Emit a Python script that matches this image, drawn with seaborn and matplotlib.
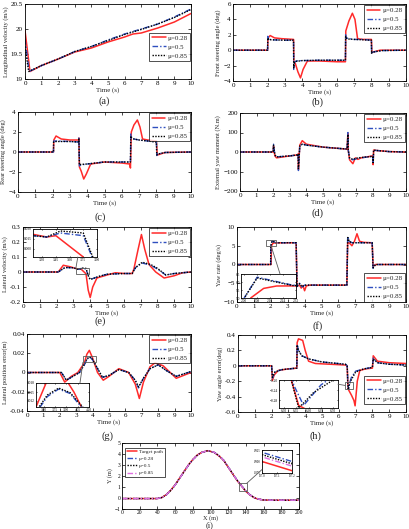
import numpy as np
import pandas as pd
import matplotlib
matplotlib.use("Agg")
import matplotlib.pyplot as plt
import seaborn as sns
from matplotlib.patches import Rectangle, ConnectionPatch
from matplotlib.ticker import MaxNLocator

sns.set_theme(style="ticks")
plt.rcParams['font.family'] = ['Liberation Serif', 'DejaVu Serif']
plt.rcParams['mathtext.fontset'] = 'stix'

# ---------------- data ----------------
mu_labels = ["\u03bc=0.28", "\u03bc=0.5", "\u03bc=0.85"]

# (a) longitudinal velocity
a_t_r = [0, 0.3, 1, 2, 3, 4, 5, 6, 6.5, 7, 8, 9, 10]
a_v_r = [19.97, 19.15, 19.27, 19.4, 19.54, 19.62, 19.74, 19.84, 19.9, 19.92, 20.02, 20.14, 20.31]
a_t_b = [0, 0.25, 1, 2, 3, 4, 5, 6, 7, 8, 9, 10]
a_v_b = [19.8, 19.15, 19.27, 19.4, 19.55, 19.65, 19.78, 19.9, 20.0, 20.1, 20.24, 20.4]
a_t_k = [0, 0.22, 1, 2, 3, 4, 5, 6, 7, 8, 9, 10]
a_v_k = [19.65, 19.15, 19.27, 19.4, 19.55, 19.65, 19.77, 19.89, 19.99, 20.1, 20.23, 20.39]

# (b) front steering angle
b_t_r = [0, 2.0, 2.02, 2.15, 2.4, 2.8, 3.5, 3.52, 3.6, 3.75, 3.9, 4.05, 4.3, 5, 6, 6.5, 6.52, 6.7, 6.9, 7.05, 7.2, 7.5, 8.0, 8.03, 8.15, 8.5, 10]
b_v_r = [0, 0, 1.6, 1.9, 1.6, 1.5, 1.4, -1.5, -1.7, -2.8, -3.6, -2.5, -1.4, -1.4, -1.5, -1.5, 2.5, 3.8, 4.8, 4.0, 1.5, 1.4, 1.4, -0.3, -0.2, 0, 0]
b_t_b = [0, 2.0, 2.01, 2.05, 2.2, 3.0, 3.5, 3.51, 3.55, 3.65, 4, 5, 6, 6.5, 6.51, 6.55, 6.7, 7, 7.5, 8.0, 8.01, 8.05, 8.2, 8.6, 10]
b_v_b = [0, 0, 1.8, 1.5, 1.35, 1.3, 1.3, -2.5, -1.6, -1.4, -1.35, -1.3, -1.3, -1.3, 2.0, 1.6, 1.5, 1.4, 1.4, 1.3, -0.5, -0.25, -0.2, -0.05, 0]
b_t_k = [0, 2.0, 2.01, 2.05, 2.2, 3.0, 3.5, 3.51, 3.55, 3.65, 4, 5, 6, 6.5, 6.51, 6.55, 6.7, 7, 7.5, 8.0, 8.01, 8.05, 8.2, 8.6, 10]
b_v_k = [0, 0, 1.6, 1.45, 1.35, 1.3, 1.3, -2.3, -1.6, -1.45, -1.35, -1.3, -1.3, -1.3, 1.8, 1.55, 1.45, 1.4, 1.35, 1.3, -0.4, -0.25, -0.2, -0.05, 0]

# (c) rear steering angle
c_t_r = [0, 2.05, 2.07, 2.2, 2.5, 3.0, 3.5, 3.52, 3.55, 3.65, 3.8, 3.95, 4.2, 5, 6, 6.45, 6.5, 6.55, 6.7, 6.9, 7.05, 7.2, 7.5, 8, 8.05, 8.15, 8.5, 10]
c_v_r = [0, 0, 1.2, 1.6, 1.3, 1.2, 1.2, 1.4, -1.5, -1.9, -2.7, -2.2, -1.2, -1.0, -1.1, -1.2, -1.6, 2.0, 2.7, 3.2, 2.5, 1.3, 1.2, 1.1, -0.3, -0.25, -0.05, 0]
c_t_b = [0, 2.05, 2.06, 2.2, 3.0, 3.5, 3.52, 3.55, 3.6, 4, 5, 6, 6.5, 6.52, 6.55, 6.7, 7, 8, 8.02, 8.1, 8.5, 10]
c_v_b = [0, 0, 1.1, 1.1, 1.05, 1.0, 1.4, -1.4, -1.3, -1.2, -1.0, -1.0, -1.0, 1.8, 1.5, 1.3, 1.2, 1.0, -0.35, -0.2, -0.05, 0]
c_t_k = [0, 2.05, 2.06, 2.2, 3.0, 3.5, 3.52, 3.55, 3.6, 4, 5, 6, 6.5, 6.52, 6.55, 6.7, 7, 8, 8.02, 8.1, 8.5, 10]
c_v_k = [0, 0, 1.0, 1.05, 1.05, 1.0, 1.3, -1.3, -1.25, -1.2, -1.0, -1.0, -1.0, 1.6, 1.45, 1.3, 1.2, 1.0, -0.3, -0.2, -0.05, 0]

# (d) external yaw moment
d_t_r = [0, 2.0, 2.02, 2.1, 2.2, 3.0, 3.45, 3.5, 3.52, 3.6, 3.75, 4.0, 5, 6, 6.45, 6.5, 6.52, 6.6, 6.8, 6.95, 7.1, 7.3, 8, 8.02, 8.05, 8.2, 9, 10]
d_v_r = [0, 0, 30, -20, -30, -20, -15, -10, -90, 35, 58, 40, 25, 18, 15, 95, 10, -40, -60, -30, -38, -30, -20, -65, 10, 8, 2, 0]
d_t_b = [0, 2.0, 2.02, 2.1, 2.2, 3.0, 3.45, 3.5, 3.52, 3.6, 3.75, 4.0, 5, 6, 6.45, 6.5, 6.52, 6.6, 6.8, 7.1, 8, 8.02, 8.05, 8.2, 9, 10]
d_v_b = [0, 0, 40, -15, -25, -20, -15, -10, -95, 30, 42, 35, 25, 18, 15, 100, 10, -35, -40, -32, -22, -60, 10, 8, 2, 0]
d_t_k = [0, 2.0, 2.02, 2.1, 2.2, 3.0, 3.45, 3.5, 3.52, 3.6, 3.75, 4.0, 5, 6, 6.45, 6.5, 6.52, 6.6, 6.8, 7.1, 8, 8.02, 8.05, 8.2, 9, 10]
d_v_k = [0, 0, 35, -15, -25, -20, -15, -10, -85, 30, 40, 35, 25, 18, 15, 90, 10, -30, -38, -30, -22, -55, 10, 8, 2, 0]

# (e) lateral velocity
e_t_r = [0, 2.1, 2.4, 2.8, 3.2, 3.35, 3.45, 3.75, 3.88, 4.0, 4.15, 4.4, 5, 5.5, 6, 6.5, 6.6, 6.85, 7.05, 7.25, 7.5, 7.9, 8.4, 9, 9.5, 10]
e_v_r = [0, 0, 0.045, 0.035, 0.022, 0.018, 0.02, -0.012, -0.12, -0.17, -0.1, -0.04, -0.02, -0.005, -0.01, -0.01, 0.02, 0.15, 0.25, 0.15, 0.05, 0.0, -0.04, -0.025, -0.005, 0]
e_t_b = [0, 2.1, 2.5, 3.0, 3.2, 3.35, 3.5, 3.75, 3.9, 4.0, 4.5, 5, 6, 6.5, 6.7, 7.1, 7.6, 8.0, 8.5, 9, 10]
e_v_b = [0, 0, 0.03, 0.028, 0.02, 0.018, 0.024, 0.02, -0.03, -0.05, -0.03, -0.015, -0.01, -0.01, 0.03, 0.06, 0.045, 0.02, -0.02, -0.01, 0]
e_t_k = [0, 2.1, 2.5, 3.0, 3.2, 3.35, 3.5, 3.75, 3.9, 4.0, 4.5, 5, 6, 6.5, 6.7, 7.1, 7.6, 8.0, 8.5, 9, 10]
e_v_k = [0, 0, 0.03, 0.028, 0.02, 0.018, 0.027, 0.024, -0.028, -0.05, -0.03, -0.015, -0.01, -0.01, 0.03, 0.065, 0.05, 0.025, -0.02, -0.01, 0]

# (f) yaw rate
f_t_r = [0, 2.02, 2.04, 2.12, 2.2, 3.0, 3.5, 3.55, 3.7, 3.8, 3.9, 4.0, 4.1, 4.3, 5, 6.5, 6.55, 6.7, 6.8, 6.95, 7.1, 7.25, 7.5, 8.0, 8.05, 8.2, 10]
f_v_r = [0, 0, 5.0, 5.6, 5.75, 5.8, 5.8, -5.8, -5.5, -6.3, -5.6, -7.0, -5.7, -5.5, -5.5, -5.5, 6.0, 5.5, 5.0, 6.2, 8.2, 6.2, 5.9, 5.8, -0.5, 0, 0]
f_t_b = [0, 1.99, 2.0, 2.08, 2.3, 3.0, 3.5, 3.55, 3.7, 3.85, 4.0, 5, 6.5, 6.55, 6.65, 6.8, 7.2, 8.0, 8.05, 8.2, 10]
f_v_b = [0, 0, 5.0, 6.3, 5.8, 5.8, 5.8, -5.9, -5.0, -6.0, -5.5, -5.5, -5.5, 7.5, 6.2, 5.8, 5.8, 5.8, -1.0, 0, 0]
f_t_k = [0, 1.99, 2.0, 2.08, 2.3, 3.0, 3.5, 3.55, 3.7, 3.85, 4.0, 5, 6.5, 6.55, 6.65, 6.8, 7.2, 8.0, 8.05, 8.2, 10]
f_v_k = [0, 0, 5.0, 6.25, 5.78, 5.8, 5.8, -5.8, -5.1, -5.9, -5.5, -5.5, -5.5, 7.2, 6.1, 5.8, 5.8, 5.8, -0.9, 0, 0]

# (g) lateral position error
g_t_r = [0, 2.0, 2.3, 2.7, 3.1, 3.5, 3.65, 3.8, 4.0, 4.3, 4.65, 5.0, 5.6, 6.2, 6.6, 6.85, 7.1, 7.5, 7.8, 8.3, 9.1, 10]
g_v_r = [0, 0, -0.010, -0.004, 0.0, 0.01, 0.019, 0.023, 0.015, 0.0, -0.008, -0.004, 0.004, 0.0, -0.012, -0.027, -0.01, 0.006, 0.01, 0.007, -0.006, 0.0]
g_t_b = [0, 2.1, 2.4, 2.8, 3.2, 3.5, 3.65, 3.8, 3.95, 4.1, 4.6, 5.0, 5.6, 6.2, 6.6, 6.8, 7.1, 7.5, 8.0, 8.5, 9.1, 10]
g_v_b = [0, 0, -0.008, -0.004, 0.0, 0.008, 0.0135, 0.016, 0.0145, 0.01, -0.005, -0.003, 0.003, 0.0, -0.008, -0.016, -0.006, 0.004, 0.008, 0.002, -0.004, 0.001]
g_t_k = [0, 2.1, 2.4, 2.8, 3.2, 3.5, 3.65, 3.8, 3.95, 4.1, 4.6, 5.0, 5.6, 6.2, 6.6, 6.8, 7.1, 7.5, 8.0, 8.5, 9.1, 10]
g_v_k = [0, 0, -0.008, -0.004, 0.0, 0.0085, 0.014, 0.0163, 0.0148, 0.0105, -0.005, -0.003, 0.003, 0.0, -0.008, -0.015, -0.006, 0.004, 0.008, 0.002, -0.004, 0.001]

# (h) yaw angle error
h_t_r = [0, 2.0, 2.05, 2.15, 2.4, 3.0, 3.5, 3.52, 3.6, 3.85, 4.0, 4.2, 4.6, 5.5, 6.4, 6.5, 6.53, 6.56, 6.6, 6.75, 6.9, 6.97, 7.1, 7.25, 7.6, 8.0, 8.05, 8.3, 9, 10]
h_v_r = [0, 0, -0.19, -0.12, -0.06, -0.04, -0.03, 0.30, 0.35, 0.33, 0.2, 0.06, 0.03, 0.02, 0.01, 0.0, -0.2, -0.3, -0.32, -0.38, -0.45, -0.52, -0.2, -0.06, -0.04, -0.03, 0.13, 0.06, 0.04, 0.03]
h_t_b = [0, 2.0, 2.05, 2.2, 2.6, 3.5, 3.52, 3.6, 3.8, 4.2, 5, 6.4, 6.5, 6.54, 6.58, 6.65, 6.75, 7.0, 7.5, 8.0, 8.05, 8.3, 9, 10]
h_v_b = [0, 0, -0.16, -0.08, -0.05, -0.03, 0.28, 0.2, 0.13, 0.09, 0.05, 0.02, 0.0, -0.22, -0.3, -0.22, -0.15, -0.07, -0.04, -0.02, 0.1, 0.04, 0.02, 0.01]
h_t_k = [0, 2.0, 2.05, 2.2, 2.6, 3.5, 3.52, 3.6, 3.8, 4.2, 5, 6.4, 6.5, 6.53, 6.56, 6.62, 6.7, 7.0, 7.5, 8.0, 8.05, 8.3, 9, 10]
h_v_k = [0, 0, -0.15, -0.08, -0.05, -0.03, 0.27, 0.2, 0.13, 0.09, 0.05, 0.02, 0.0, -0.2, -0.31, -0.25, -0.2, -0.08, -0.04, -0.02, 0.09, 0.04, 0.02, 0.01]

# (i) path
i_x = [0, 40, 45, 50, 55, 60, 65, 70, 75, 80, 85, 90, 97, 104, 110, 115, 120, 125, 130, 135, 140, 145, 150, 155, 160, 170, 200]
i_target = [-0.05, -0.05, 0.05, 0.3, 0.7, 1.2, 1.8, 2.4, 3.0, 3.5, 3.9, 4.15, 4.3, 4.15, 3.8, 3.4, 2.8, 2.2, 1.6, 1.1, 0.6, 0.25, 0.0, -0.12, -0.18, -0.2, -0.2]
i_mu028 = [-0.05, -0.05, 0.04, 0.28, 0.68, 1.18, 1.78, 2.38, 2.98, 3.48, 3.88, 4.14, 4.3, 4.16, 3.82, 3.42, 2.82, 2.22, 1.62, 1.12, 0.62, 0.27, 0.01, -0.11, -0.18, -0.2, -0.2]
i_mu05 = [-0.05, -0.05, 0.04, 0.28, 0.68, 1.18, 1.78, 2.38, 2.98, 3.48, 3.88, 4.14, 4.3, 4.16, 3.82, 3.42, 2.82, 2.22, 1.62, 1.115, 0.615, 0.265, 0.01, -0.11, -0.18, -0.2, -0.2]
i_mu085 = [-0.05, -0.05, 0.04, 0.28, 0.68, 1.18, 1.78, 2.38, 2.98, 3.48, 3.88, 4.14, 4.3, 4.16, 3.82, 3.42, 2.82, 2.22, 1.62, 1.11, 0.61, 0.26, 0.01, -0.11, -0.18, -0.2, -0.2]

# ---------------- styling ----------------
RED = '#ff2a2a'
BLUE = '#2f4fbf'
BLACK = '#000000'
PINK = '#e070e0'
styles = [dict(color=RED, linestyle='-', lw=1.1),
          dict(color=BLUE, linestyle=(0, (4, 1.5, 1, 1.5)), lw=1.0),
          dict(color=BLACK, linestyle=(0, (1, 1)), lw=1.0)]

W, H = 409, 529
fig = plt.figure(figsize=(W / 100, H / 100), dpi=100)


def px_axes(l, r, t, b):
    return fig.add_axes([l / W, 1 - b / H, (r - l) / W, (b - t) / H])


def style_ax(ax, fs=5):
    for s in ax.spines.values():
        s.set_visible(True)
        s.set_linewidth(0.6)
        s.set_color('black')
    ax.tick_params(direction='in', length=2, width=0.5, labelsize=fs, pad=1.5,
                   top=True, right=True, colors='black')
    ax.set_facecolor('white')


def draw(ax, series, labels=mu_labels, sty=styles):
    for (t, v), lab, st in zip(series, labels, sty):
        sns.lineplot(x=t, y=v, ax=ax, label=lab, estimator=None, sort=False, **st)


def legend(ax, loc, anchor, fs=5):
    lg = ax.legend(loc=loc, bbox_to_anchor=anchor, fontsize=fs, frameon=True, fancybox=False,
                   edgecolor='black', handlelength=2.0, handletextpad=0.3, borderpad=0.35,
                   labelspacing=0.45, borderaxespad=0)
    lg.get_frame().set_linewidth(0.6)


def time_axis(ax):
    ax.set_xlim(0, 10)
    ax.set_xticks(range(0, 11))
    ax.set_xlabel('Time (s)', fontsize=5, labelpad=0.5)


def inset(ax, box, rect, xlim, ylim, series, conn_a, conn_b, labels=mu_labels, sty=styles,
          xn=5, yn=3):
    x0, x1, y0, y1 = rect
    ax.add_patch(Rectangle((x0, y0), x1 - x0, y1 - y0, fill=False, ec='0.35', lw=0.6, zorder=5))
    ins = px_axes(*box)
    draw(ins, series, labels, sty)
    if ins.get_legend():
        ins.get_legend().remove()
    ins.set_xlim(*xlim)
    ins.set_ylim(*ylim)
    style_ax(ins, fs=2.5)
    ins.tick_params(length=1, pad=0.8)
    ins.xaxis.set_major_locator(MaxNLocator(nbins=xn))
    ins.yaxis.set_major_locator(MaxNLocator(nbins=yn))
    ins.set_xlabel('')
    ins.set_ylabel('')
    xa = x0 if conn_a[0] == 0 else (x1 if conn_a[0] == 1 else (x0 + x1) / 2)
    ya = y0 if conn_a[1] == 0 else (y1 if conn_a[1] == 1 else (y0 + y1) / 2)
    con = ConnectionPatch(xyA=(xa, ya), coordsA=ax.transData, xyB=conn_b, coordsB=ins.transAxes,
                          color='0.35', lw=0.6)
    fig.add_artist(con)
    return ins


def panel(txt, x, y, fs=7.5):
    fig.text(x / W, 1 - y / H, txt, fontsize=fs, ha='center', va='center')


# (a)
ax = px_axes(25, 191, 4, 79)
draw(ax, [(a_t_r, a_v_r), (a_t_b, a_v_b), (a_t_k, a_v_k)])
style_ax(ax)
time_axis(ax)
ax.set_ylim(19, 20.5)
ax.set_yticks([19, 19.5, 20, 20.5])
ax.set_yticklabels(['19', '19.5', '20', '20.5'])
ax.set_ylabel('Longitudinal velocity (m/s)', fontsize=4.6, labelpad=1.5)
legend(ax, 'upper right', (0.995, 0.62))
panel('(a)', 104, 101)

# (b)
ax = px_axes(233, 406, 4, 81)
draw(ax, [(b_t_r, b_v_r), (b_t_b, b_v_b), (b_t_k, b_v_k)])
style_ax(ax)
time_axis(ax)
ax.set_ylim(-4, 6)
ax.set_yticks([-4, -2, 0, 2, 4, 6])
ax.set_ylabel('Front steering angle (deg)', fontsize=4.6, labelpad=1.5)
legend(ax, 'upper right', (0.995, 0.99))
panel('(b)', 317, 102)

# (c)
ax = px_axes(18, 191, 112, 192)
draw(ax, [(c_t_r, c_v_r), (c_t_b, c_v_b), (c_t_k, c_v_k)])
style_ax(ax)
time_axis(ax)
ax.set_ylim(-4, 4)
ax.set_yticks([-4, -2, 0, 2, 4])
ax.set_ylabel('Rear steering angle (deg)', fontsize=4.6, labelpad=1.5)
legend(ax, 'upper right', (0.995, 0.99))
panel('(c)', 100, 217)

# (d)
ax = px_axes(240, 406, 113, 191)
draw(ax, [(d_t_r, d_v_r), (d_t_b, d_v_b), (d_t_k, d_v_k)])
style_ax(ax)
time_axis(ax)
ax.set_ylim(-200, 200)
ax.set_yticks([-200, -100, 0, 100, 200])
ax.set_ylabel('External yaw moment (N.m)', fontsize=4.6, labelpad=1.5)
legend(ax, 'upper right', (0.995, 0.99))
panel('(d)', 318, 213)

# (e)
ax = px_axes(23, 191, 227, 302)
e_series = [(e_t_r, e_v_r), (e_t_b, e_v_b), (e_t_k, e_v_k)]
draw(ax, e_series)
style_ax(ax)
time_axis(ax)
ax.set_ylim(-0.2, 0.3)
ax.set_yticks([-0.2, -0.1, 0, 0.1, 0.2, 0.3])
ax.set_yticklabels(['-0.2', '-0.1', '0', '0.1', '0.2', '0.3'])
ax.set_ylabel('Lateral velocity (m/s)', fontsize=4.6, labelpad=1.5)
legend(ax, 'upper right', (0.995, 0.99))
inset(ax, (33, 97, 229, 257), (3.15, 3.92, -0.013, 0.027), (3.2, 3.9), (-0.012, 0.03),
      e_series, (0, 1), (0.7, 0.0))
panel('(e)', 100, 321)

# (f)
ax = px_axes(237, 406, 227, 302)
f_series = [(f_t_r, f_v_r), (f_t_b, f_v_b), (f_t_k, f_v_k)]
draw(ax, f_series)
style_ax(ax)
time_axis(ax)
ax.set_ylim(-10, 10)
ax.set_yticks([-10, -5, 0, 5, 10])
ax.set_ylabel('Yaw rate (deg/s)', fontsize=4.6, labelpad=1.5)
legend(ax, 'lower right', (0.995, 0.005))
inset(ax, (241, 296, 274, 298), (1.72, 2.31, 5.0, 6.5), (1.98, 2.32), (5.0, 6.5),
      f_series, (0.5, 0), (0.71, 1.0))
panel('(f)', 318, 326)

# (g)
ax = px_axes(27, 191, 334, 411)
g_series = [(g_t_r, g_v_r), (g_t_b, g_v_b), (g_t_k, g_v_k)]
draw(ax, g_series)
style_ax(ax)
time_axis(ax)
ax.set_ylim(-0.04, 0.04)
ax.set_yticks([-0.04, -0.02, 0, 0.02, 0.04])
ax.set_yticklabels(['-0.04', '-0.02', '0', '0.02', '0.04'])
ax.set_ylabel('Lateral position error(m)', fontsize=4.6, labelpad=1.5)
legend(ax, 'upper right', (0.995, 0.99))
inset(ax, (36, 89, 383, 407), (3.41, 4.2, 0.0105, 0.0168), (3.5, 4.2), (0.010, 0.018),
      g_series, (0, 0), (0.83, 1.0))
panel('(g)', 107, 436)

# (h)
ax = px_axes(238, 406, 335, 412)
h_series = [(h_t_r, h_v_r), (h_t_b, h_v_b), (h_t_k, h_v_k)]
draw(ax, h_series)
style_ax(ax)
time_axis(ax)
ax.set_ylim(-0.6, 0.4)
ax.set_yticks([-0.6, -0.4, -0.2, 0, 0.2, 0.4])
ax.set_yticklabels(['-0.6', '-0.4', '-0.2', '0', '0.2', '0.4'])
ax.set_ylabel('Yaw angle error(deg)', fontsize=4.6, labelpad=1.5)
legend(ax, 'lower right', (0.995, 0.1))
inset(ax, (279, 338, 380, 408), (6.37, 6.85, -0.30, -0.21), (6.48, 6.72), (-0.31, -0.2),
      h_series, (0, 0.5), (1.0, 0.85))
panel('(h)', 315, 436)

# (i)
ax = px_axes(122, 299, 443, 509)
i_labels = ['Target path'] + mu_labels
i_styles = [dict(color=RED, linestyle='-', lw=1.1),
            dict(color=BLUE, linestyle=(0, (4, 1.5, 1, 1.5)), lw=1.0),
            dict(color=BLACK, linestyle=(0, (1, 1)), lw=1.0),
            dict(color=PINK, linestyle=(0, (4, 1.5, 1, 1.5)), lw=1.0)]
i_series = [(i_x, i_target), (i_x, i_mu028), (i_x, i_mu05), (i_x, i_mu085)]
draw(ax, i_series, i_labels, i_styles)
style_ax(ax, fs=4)
ax.tick_params(pad=1)
ax.set_xlim(0, 200)
ax.set_xticks(range(0, 201, 20))
ax.set_ylim(-1, 5)
ax.set_yticks(range(-1, 6))
ax.set_xlabel('X (m)', fontsize=4.5, labelpad=0)
ax.set_ylabel('Y (m)', fontsize=4.5, labelpad=1)
legend(ax, 'upper left', (0.017, 0.93), fs=3.8)
ins_i = inset(ax, (262, 292, 450, 473), (132, 141, 0.63, 1.34), (137.0, 137.2), (0.875, 0.925),
              i_series, (1, 1), (0.0, 0.15), i_labels, i_styles, xn=2, yn=2)
ins_i.tick_params(labelsize=2.2)
panel('(i)', 210, 525, fs=6)

fig.savefig('out.png', dpi=100)
